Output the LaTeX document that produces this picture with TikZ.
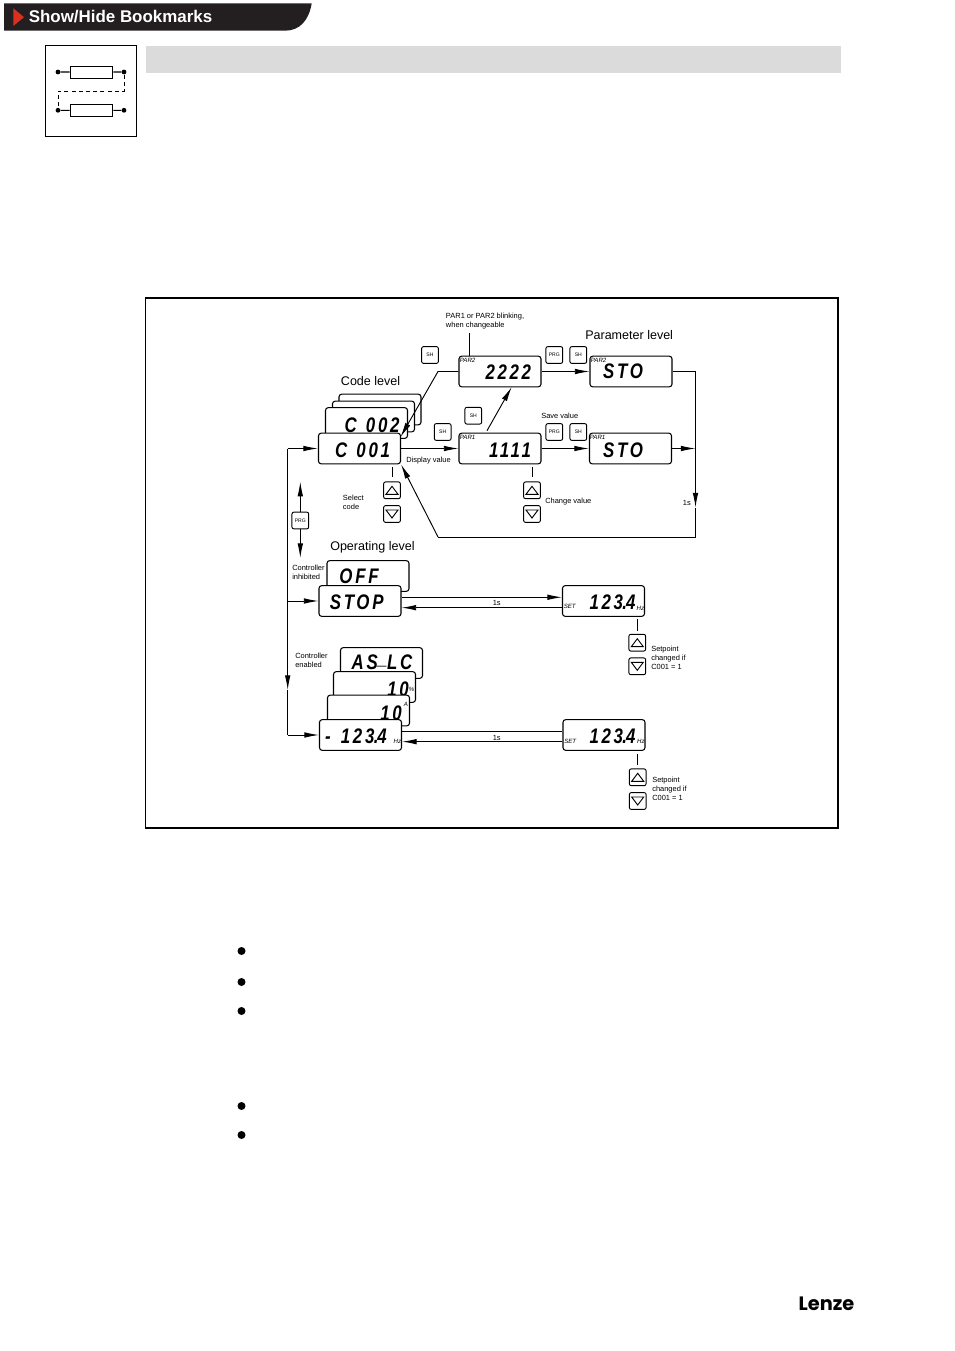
\documentclass[tikz,border=0pt]{standalone}
\usepackage{fontspec}
\usepackage{graphicx}
\setmainfont{Liberation Sans}
\newfontfamily\ledfont[LetterSpace=16]{Liberation Sans}
\newfontfamily\logofont{Poppins}
\usetikzlibrary{arrows.meta,calc}
\newcommand\fsz[2]{\fontsize{#1}{#2}\selectfont}
\newcommand\ledt[1]{\scalebox{.8}[1]{\ledfont\bfseries\itshape\fsz{15.8}{17}#1}}
\newcommand\ledpt{\kern-.04em.\kern-.06em}
\definecolor{bannerdark}{HTML}{231F20}
\definecolor{bannerred}{HTML}{D9301F}
\tikzset{
  x=0.75pt,y=-0.75pt,
  line/.style={line width=0.7pt,black},
  arr/.style={line,-{Latex[length=11pt,width=4.2pt]}},
  dispbox/.style={draw,line width=0.8pt,rounded corners=2pt,fill=white,minimum width=61.5pt,minimum height=23pt,inner sep=0pt},
  btn/.style={draw,line width=0.7pt,rounded corners=1.5pt,fill=white,minimum width=12.6pt,minimum height=12.6pt,inner sep=0pt,font=\fsz{3.8}{4.5}},
  led/.style={inner sep=0pt},
  tiny/.style={inner sep=0pt,font=\itshape\fsz{4.6}{5}},
  lab/.style={inner sep=0pt,anchor=west,align=left,font=\fsz{5.6}{6.75}},
  big/.style={inner sep=0pt,anchor=west,font=\fsz{9.4}{11}},
  bullet/.style={circle,fill=black,minimum size=6pt,inner sep=0pt},
  iconres/.style={draw,line width=.7pt,minimum width=32pt,minimum height=9.2pt,inner sep=0pt},
  icondot/.style={circle,fill=black,minimum size=3.6pt,inner sep=0pt}
}
\newcommand\updown[5]{%
  \node[btn] (#1u) at (#2,#3) {};
  \node[btn] (#1d) at (#4,#5) {};
  \draw[line width=.7pt,line join=miter] ([shift={(-6,4)}]#1u.center) -- ([shift={(6,4)}]#1u.center) -- ([shift={(0,-4)}]#1u.center) -- cycle;
  \draw[line width=.7pt,line join=miter] ([shift={(-6,-4)}]#1d.center) -- ([shift={(6,-4)}]#1d.center) -- ([shift={(0,4)}]#1d.center) -- cycle;
}
\begin{document}
\begin{tikzpicture}
\useasboundingbox (0,0) rectangle (954,1351);
% banner
\fill[bannerdark] (4,3.3) -- (311.7,3.3) .. controls (309,20) and (300,30.7) .. (285,30.7) -- (4,30.7) -- cycle;
\fill[bannerred] (13.3,8.3) -- (24,17.2) -- (13.3,26) -- cycle;
\node[inner sep=0pt,anchor=west,text=white,font=\bfseries\fsz{12.7}{14}] (bm) at (28.5,16.6) {Show/Hide Bookmarks};
% icon
\draw[line width=.75pt] (45.3,45.3) rectangle (136.7,136.7);
\node[iconres] (r1) at (91.5,72.2) {};
\node[iconres] (r2) at (91.5,110.5) {};
\node[icondot] (d1) at (58,72) {};
\node[icondot] (d2) at (124,72) {};
\node[icondot] (d3) at (58,110.3) {};
\node[icondot] (d4) at (124,110.3) {};
\draw[line width=1pt] (d1) -- (r1) (r1) -- (d2);
\draw[line width=.8pt] (d3) -- (r2) (r2) -- (d4);
\coordinate (k1) at (124,91);
\coordinate (k2) at (58,91);
\draw[line width=.6pt,dash pattern=on 3pt off 2.4pt] (d2) -- (k1) -- (k2) -- (d3);
\fill[black!14] (146,46) rectangle (841,73);
% frame
\draw[line width=.8pt] (145.5,298) rectangle (838,828);
% stacks
\node[dispbox] (ca) at (380,409.5) {};
\node[dispbox] (cb) at (373.5,416.5) {};
\node[dispbox] (cc) at (366.5,423) {};
\node[led] at (372,425.7) {\ledt{C\kern.55em 002}};
\node[dispbox] (c1) at (359.5,448.5) {};
\node[led] at (362.5,450) {\ledt{C\kern.55em 001}};
\node[dispbox] (par2) at (500,371.5) {};
\node[led] at (508.3,371.7) {\ledt{2222}};
\node[dispbox] (par1) at (500,448.5) {};
\node[led] at (510,450.7) {\ledt{1111}};
\node[dispbox] (s2) at (631,371.5) {};
\node[led] at (623,371.7) {\ledt{STO}};
\node[dispbox] (s1) at (630.5,448.5) {};
\node[led] at (623,450) {\ledt{STO}};
\node[dispbox] (off) at (368,576) {};
\node[led] at (359,576.5) {\ledt{OFF}};
\node[dispbox] (stop) at (360,601) {};
\node[led] at (356.7,602.3) {\ledt{STOP}};
\node[dispbox] (set1) at (603.5,601) {};
\node[led] at (612.5,602) {\ledt{123\ledpt 4}};
\node[dispbox] (as) at (381.5,663) {};
\node[led] at (382,662.5) {\ledt{AS\raisebox{.27em}{\string_}LC}};
\node[dispbox] (pct) at (374.5,687) {};
\node[led] at (398,689.5) {\ledt{10}};
\node[dispbox] (amp) at (368.5,710.5) {};
\node[led] at (391,713) {\ledt{10}};
\node[dispbox] (run) at (360.5,735) {};
\node[led] at (356,736.7) {\ledt{-\kern.6em 123\ledpt 4}};
\node[dispbox] (set2) at (604,735) {};
\node[led] at (612.5,736.7) {\ledt{123\ledpt 4}};
% small display labels
\node[tiny,anchor=west] at (459.5,360) {PAR2};
\node[tiny,anchor=west] at (459.5,437) {PAR1};
\node[tiny,anchor=west] at (590.5,360) {PAR2};
\node[tiny,anchor=west] at (589.5,437) {PAR1};
\node[tiny,anchor=west] at (563.5,606.5) {SET};
\node[tiny,anchor=west] at (564,741) {SET};
\node[tiny,anchor=east] at (644.5,608) {Hz};
\node[tiny,anchor=east] at (645,741.5) {Hz};
\node[tiny,anchor=east] at (401.5,741.5) {Hz};
\node[tiny] at (411.7,689) {\%};
\node[tiny] at (406,704) {A};
% buttons
\node[btn] (sha) at (430,355) {SH};
\node[btn] (shb) at (473.3,415.7) {SH};
\node[btn] (shc) at (442.7,432) {SH};
\node[btn] (prga) at (554.3,355) {PRG};
\node[btn] (shd) at (578.3,355) {SH};
\node[btn] (prgb) at (554.3,432) {PRG};
\node[btn] (she) at (578.3,432) {SH};
\node[btn] (prgc) at (300.3,520.5) {PRG};
\updown{ba}{392}{490.3}{392}{514}
\updown{bb}{532}{490.3}{532}{514}
\updown{bc}{637.3}{642.7}{637.3}{666.3}
\updown{bd}{637.7}{777.3}{637.7}{801}
% connectors
\coordinate (t1) at (469.3,333);
\draw[line] (t1) -- (t1 |- par2.north);
\draw[arr] (c1.east) -- (par1.west);
\draw[arr] (par1.east) -- (s1.west);
\draw[arr] (par2.east) -- (s2.west);
\coordinate (rj) at (695.5,448.5);
\coordinate (rt) at (695.5,371.5);
\coordinate (rd) at (695.5,507.5);
\coordinate (rb) at (695.5,537);
\coordinate (rl) at (438,537);
\draw[arr] (s1.east) -- (rj);
\draw[arr] (s2.east) -- (rt) -- (rd);
\draw[line] (rd) -- (rb) -- (rl);
\draw[arr] (rl) -- (c1.south east);
\coordinate (pk) at (438,371.5);
\coordinate (pt) at (400.5,437);
\draw[arr] (par2.west) -- (pk) -- (pt);
\coordinate (ua) at (487,430.7);
\coordinate (ub) at (511.7,387);
\draw[arr] (ua) -- (ub);
% left bus
\coordinate (lt) at (287.7,448.5);
\coordinate (lm) at (287.7,601);
\coordinate (la) at (287.7,690);
\coordinate (lb) at (287.7,735);
\draw[arr] (lt) -- (c1.west);
\draw[arr] (lt) -- (la);
\draw[line] (la) -- (lb);
\draw[arr] (lm) -- (stop.west);
\draw[arr] (lb) -- (run.west);
% PRG arrows
\coordinate (pu) at (300.3,481.7);
\coordinate (pd) at (300.3,558);
\draw[arr] (prgc.north) -- (pu);
\draw[arr] (prgc.south) -- (pd);
% level-to-setpoint
\draw[arr] ([yshift=2.8pt]stop.east) -- ([yshift=2.8pt]set1.west);
\draw[arr] ([yshift=-5pt]set1.west) -- ([yshift=-5pt]stop.east);
\draw[line] ([yshift=2.5pt]run.east) -- ([yshift=2.5pt]set2.west);
\draw[arr] ([yshift=-5pt]set2.west) -- ([yshift=-5pt]run.east);
% ticks
\coordinate (ta) at (392.3,466.7);
\coordinate (tb) at (532.3,466.7);
\coordinate (tc) at (637.7,619.3);
\coordinate (td) at (637.7,754.3);
\draw[line] (ta) -- ++(0,10);
\draw[line] (tb) -- ++(0,10);
\draw[line] (tc) -- ++(0,11.7);
\draw[line] (td) -- ++(0,10.7);
% labels
\node[lab] at (445.7,320.7) {PAR1 or PAR2 blinking,\\when changeable};
\node[big] at (585,335) {Parameter level};
\node[big] at (340.7,381) {Code level};
\node[big] at (330,547) {Operating level};
\node[lab] at (406,461) {Display value};
\node[lab] at (541,416) {Save value};
\node[lab] at (342.7,502.5) {Select\\code};
\node[lab] at (545,502) {Change value};
\node[lab] at (682.7,503) {1s};
\node[lab] at (292,572) {Controller\\inhibited};
\node[lab,anchor=center] at (496.7,603) {1s};
\node[lab,anchor=center] at (496.7,737.5) {1s};
\node[lab] at (651,658) {Setpoint\\changed if\\C001 = 1};
\node[lab] at (295,660) {Controller\\enabled};
\node[lab] at (652,789) {Setpoint\\changed if\\C001 = 1};
% bullets
\node[bullet] (b1) at (241.5,951) {};
\node[bullet] (b2) at (241.5,982) {};
\node[bullet] (b3) at (241.5,1011) {};
\node[bullet] (b4) at (241.5,1106) {};
\node[bullet] (b5) at (241.5,1135) {};
% logo
\node[inner sep=0pt,anchor=center,font=\logofont\bfseries\fsz{14.5}{15}] (logo) at (826.5,1304) {Lenze};
\end{tikzpicture}
\end{document}
